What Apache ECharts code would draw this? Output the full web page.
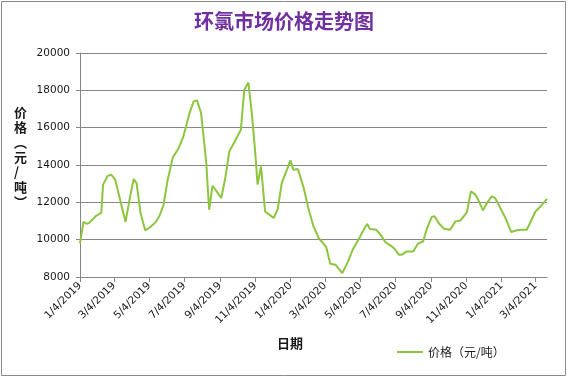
<!DOCTYPE html>
<html>
<head>
<meta charset="utf-8">
<script src="https://cdn.jsdelivr.net/npm/echarts@6/dist/echarts.min.js"></script>
<style>
  html, body { margin: 0; padding: 0; background: #fff; }
  #chart { width: 568px; height: 378px; }
</style>
</head>
<body>
<div id="chart"></div>
<script>
// 标题与轴名
const titleText = '环氯市场价格走势图'
const seriesName = '价格（元/吨）'
const xName = '日期'

// x轴刻度标签（每两个月）
const tickLabels = [
  '1/4/2019', '3/4/2019', '5/4/2019', '7/4/2019', '9/4/2019', '11/4/2019',
  '1/4/2020', '3/4/2020', '5/4/2020', '7/4/2020', '9/4/2020', '11/4/2020',
  '1/4/2021', '3/4/2021'
]

// 价格日期
const priceDates = [
  '1/4/2019', '1/10/2019', '1/16/2019', '1/20/2019', '2/1/2019', '2/10/2019', '2/13/2019',
  '2/21/2019', '2/27/2019', '3/6/2019', '3/16/2019', '3/24/2019', '3/31/2019', '4/7/2019',
  '4/12/2019', '4/19/2019', '4/27/2019', '5/6/2019', '5/15/2019', '5/22/2019', '5/29/2019',
  '6/5/2019', '6/14/2019', '6/24/2019', '7/2/2019', '7/7/2019', '7/13/2019', '7/20/2019',
  '7/26/2019', '8/2/2019', '8/6/2019', '8/11/2019', '8/16/2019', '8/22/2019', '8/29/2019',
  '9/6/2019', '9/13/2019', '9/20/2019', '9/28/2019', '10/10/2019', '10/16/2019', '10/23/2019',
  '10/29/2019', '11/4/2019', '11/8/2019', '11/14/2019', '11/21/2019', '11/30/2019', '12/6/2019',
  '12/13/2019', '12/20/2019', '12/29/2019', '1/4/2020', '1/9/2020', '1/17/2020', '1/27/2020',
  '2/4/2020', '2/13/2020', '2/22/2020', '3/6/2020', '3/13/2020', '3/22/2020', '4/3/2020',
  '4/13/2020', '4/21/2020', '5/4/2020', '5/10/2020', '5/16/2020', '5/21/2020', '6/1/2020',
  '6/8/2020', '6/17/2020', '6/28/2020', '7/3/2020', '7/10/2020', '7/15/2020', '7/24/2020',
  '8/4/2020', '8/12/2020', '8/21/2020', '8/28/2020', '9/5/2020', '9/10/2020', '9/17/2020',
  '9/26/2020', '10/7/2020', '10/16/2020', '10/25/2020', '11/5/2020', '11/12/2020', '11/20/2020',
  '11/26/2020', '12/3/2020', '12/10/2020', '12/18/2020', '12/24/2020', '1/2/2021', '1/11/2021',
  '1/21/2021', '1/31/2021', '2/8/2021', '2/17/2021', '3/4/2021', '3/14/2021', '3/24/2021'
]

// 价格（元/吨）
const prices = [
  9800, 10950, 10850, 10900, 11280, 11450, 12950,
  13420, 13480, 13220, 11950, 10950, 12150, 13250,
  13040, 11430, 10500, 10680, 10930, 11280, 11870,
  13200, 14400, 14900, 15500, 16070, 16780, 17400,
  17460, 16780, 15620, 14100, 11600, 12890, 12590,
  12230, 13300, 14730, 15180, 15890, 18030, 18420,
  16780, 14640, 12950, 13920, 11510, 11300, 11160,
  11640, 13040, 13750, 14250, 13750, 13780, 12770,
  11700, 10710, 10090, 9610, 8710, 8660, 8210,
  8840, 9460, 10175, 10530, 10840, 10570, 10530,
  10270, 9850, 9640, 9500, 9195, 9195, 9370,
  9370, 9780, 9900, 10620, 11210, 11250, 10890,
  10590, 10530, 10980, 11030, 11460, 12590, 12410,
  12050, 11570, 11960, 12320, 12230, 11700, 11160,
  10410, 10500, 10530, 10530, 11510, 11820, 12180
]

// 按天生成类目（Excel 日期轴）
const startDay = Date.UTC(2019, 0, 4)
const endDay = Date.UTC(2021, 2, 24)
const dayList = []
for (let t = startDay; t <= endDay; t += 86400000) {
  const d = new Date(t)
  dayList.push(`${d.getUTCMonth() + 1}/${d.getUTCDate()}/${d.getUTCFullYear()}`)
}

const lineColor = '#8CC63F'
const gridColor = '#868686'
const textColor = '#1a1a1a'
const showTick = (idx, val) => tickLabels.includes(val)

const myChart = echarts.init(document.getElementById('chart'), null, { renderer: 'canvas' })
const options = {
  backgroundColor: '#fff',
  animation: false,
  title: {
    text: titleText,
    left: 'center',
    top: 6,
    textStyle: {
      fontFamily: 'Noto Sans CJK SC',
      fontSize: 20,
      fontWeight: 'bold',
      color: '#7030A0'
    }
  },
  legend: {
    left: 392,
    top: 341,
    itemWidth: 26,
    itemHeight: 2,
    itemGap: 5,
    icon: 'rect',
    textStyle: {
      fontFamily: 'Noto Sans CJK SC',
      fontSize: 12,
      color: textColor
    },
    data: [seriesName]
  },
  grid: {
    left: 80,
    right: 21,
    top: 53,
    bottom: 101,
    containLabel: false
  },
  xAxis: {
    type: 'category',
    boundaryGap: false,
    data: dayList,
    axisLine: { lineStyle: { color: gridColor, width: 1 } },
    axisTick: {
      show: true,
      interval: showTick,
      length: 5,
      lineStyle: { color: gridColor }
    },
    axisLabel: {
      interval: showTick,
      rotate: 45,
      margin: 7,
      fontFamily: 'DejaVu Sans',
      fontSize: 10.5,
      color: textColor
    },
    splitLine: { show: false }
  },
  yAxis: {
    type: 'value',
    min: 8000,
    max: 20000,
    interval: 2000,
    axisLine: { show: true, lineStyle: { color: gridColor, width: 1 } },
    axisTick: { show: true, length: 4, lineStyle: { color: gridColor } },
    axisLabel: {
      margin: 10,
      fontFamily: 'DejaVu Sans',
      fontSize: 10.5,
      color: textColor,
      formatter: (v) => String(v)
    },
    splitLine: { lineStyle: { color: gridColor, width: 1 } }
  },
  graphic: [
    {
      type: 'rect',
      shape: { x: 1.5, y: 1.5, width: 564, height: 374 },
      style: { fill: null, stroke: '#8a8a8a', lineWidth: 1 },
      silent: true
    },
    {
      type: 'text',
      left: 14,
      top: 105,
      style: {
        text: '价\n格\n︵\n元\n/\n吨\n︶',
        fontFamily: 'Noto Sans CJK SC',
        fontSize: 13,
        fontWeight: 'bold',
        lineHeight: 15,
        align: 'center',
        fill: textColor
      }
    },
    {
      type: 'text',
      left: 277,
      top: 337,
      style: {
        text: xName,
        fontFamily: 'Noto Sans CJK SC',
        fontSize: 13,
        fontWeight: 'bold',
        fill: textColor
      }
    }
  ],
  series: [
    {
      name: seriesName,
      type: 'line',
      data: priceDates.map((d, i) => [d, prices[i]]),
      showSymbol: false,
      symbol: 'none',
      smooth: false,
      lineStyle: { color: lineColor, width: 2 },
      itemStyle: { color: lineColor }
    }
  ]
}
myChart.setOption(options)
</script>
</body>
</html>
